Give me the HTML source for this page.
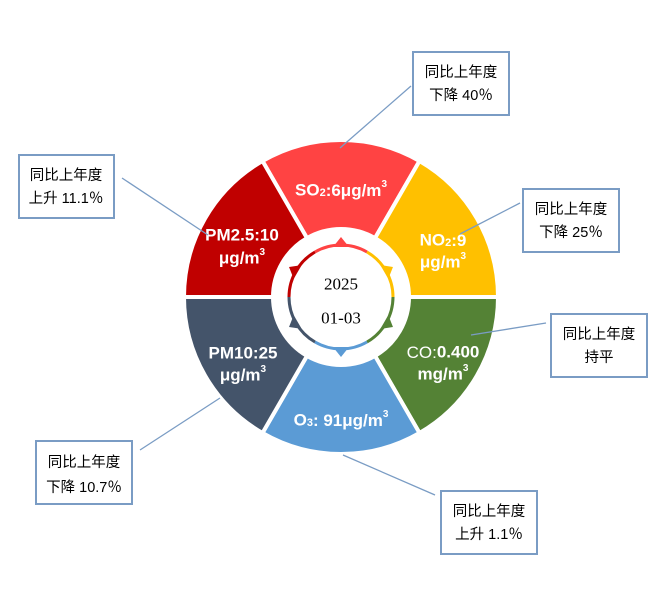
<!DOCTYPE html>
<html><head><meta charset="utf-8"><style>body{margin:0;background:#fff}svg{display:block}
.l{font-family:"Liberation Sans","Noto Sans CJK SC",sans-serif;font-size:17px;font-weight:bold;fill:#fff;text-anchor:middle;dominant-baseline:central}
.b{font-family:"Liberation Sans","Noto Sans CJK SC",sans-serif;font-size:14.5px;fill:#000;text-anchor:middle;dominant-baseline:central}
</style></head><body>
<svg width="667" height="608" viewBox="0 0 667 608" xmlns="http://www.w3.org/2000/svg">
<g stroke="#fff" stroke-width="4">
<path d="M419.5,161 A157,157 0 0 0 262.5,161 L307,238.1 A68,68 0 0 1 375,238.1 Z" fill="#FF4343"/>
<path d="M498,297 A157,157 0 0 0 419.5,161 L375,238.1 A68,68 0 0 1 409,297 Z" fill="#FFC000"/>
<path d="M419.5,433 A157,157 0 0 0 498,297 L409,297 A68,68 0 0 1 375,355.9 Z" fill="#548235"/>
<path d="M262.5,433 A157,157 0 0 0 419.5,433 L375,355.9 A68,68 0 0 1 307,355.9 Z" fill="#5B9BD5"/>
<path d="M184,297 A157,157 0 0 0 262.5,433 L307,355.9 A68,68 0 0 1 273,297 Z" fill="#44546A"/>
<path d="M262.5,161 A157,157 0 0 0 184,297 L273,297 A68,68 0 0 1 307,238.1 Z" fill="#C00000"/>
</g>
<g fill="none" stroke-width="3">
<path d="M367,252 A52,52 0 0 0 315,252" stroke="#FF4343"/>
<path d="M393,297 A52,52 0 0 0 367,252" stroke="#FFC000"/>
<path d="M367,342 A52,52 0 0 0 393,297" stroke="#548235"/>
<path d="M315,342 A52,52 0 0 0 367,342" stroke="#5B9BD5"/>
<path d="M289,297 A52,52 0 0 0 315,342" stroke="#44546A"/>
<path d="M315,252 A52,52 0 0 0 289,297" stroke="#C00000"/>
</g>
<g>
<polygon points="341,237 333,247 349,247" fill="#FF4343"/>
<polygon points="341,237 333,247 349,247" fill="#FFC000" transform="rotate(60 341 297)"/>
<polygon points="341,237 333,247 349,247" fill="#548235" transform="rotate(120 341 297)"/>
<polygon points="341,237 333,247 349,247" fill="#5B9BD5" transform="rotate(180 341 297)"/>
<polygon points="341,237 333,247 349,247" fill="#44546A" transform="rotate(240 341 297)"/>
<polygon points="341,237 333,247 349,247" fill="#C00000" transform="rotate(300 341 297)"/>
</g>
<text x="341" y="284" font-family="Liberation Serif,serif" font-size="17" text-anchor="middle" dominant-baseline="central">2025</text>
<text x="341" y="318" font-family="Liberation Serif,serif" font-size="17" text-anchor="middle" dominant-baseline="central">01-03</text>

<text class="l" x="341" y="190">SO<tspan font-size="11" dy="3">2</tspan><tspan dy="-3">:6μg/m</tspan><tspan font-size="10" dy="-6">3</tspan></text>
<text class="l" x="242" y="235">PM2.5:10</text>
<text class="l" x="242" y="258">μg/m<tspan font-size="10" dy="-6">3</tspan></text>
<text class="l" x="443" y="240">NO<tspan font-size="11" dy="3">2</tspan><tspan dy="-3">:9</tspan></text>
<text class="l" x="443" y="262">μg/m<tspan font-size="10" dy="-6">3</tspan></text>
<text class="l" x="443" y="352"><tspan font-weight="normal">CO:</tspan>0.400</text>
<text class="l" x="443" y="374">mg/m<tspan font-size="10" dy="-6">3</tspan></text>
<text class="l" x="243" y="353">PM10:25</text>
<text class="l" x="243" y="375">μg/m<tspan font-size="10" dy="-6">3</tspan></text>
<text class="l" x="341" y="420">O<tspan font-size="11" dy="3">3</tspan><tspan dy="-3">: 91μg/m</tspan><tspan font-size="10" dy="-6">3</tspan></text>

<g stroke="#7A9CC4" stroke-width="1.3">
<line x1="411" y1="86" x2="340" y2="148"/>
<line x1="122" y1="178" x2="208" y2="235"/>
<line x1="520" y1="203" x2="460" y2="234"/>
<line x1="546" y1="323" x2="471" y2="335"/>
<line x1="140" y1="450" x2="220" y2="398"/>
<line x1="435" y1="495" x2="343" y2="455"/>
</g>
<g fill="#fff" stroke="#7A9CC4" stroke-width="2">
<rect x="413" y="52" width="96" height="63"/>
<rect x="19" y="155" width="95" height="63"/>
<rect x="523" y="189" width="96" height="63"/>
<rect x="551" y="314" width="96" height="63"/>
<rect x="36" y="441" width="96" height="63"/>
<rect x="441" y="491" width="96" height="63"/>
</g>
<text class="b" x="461" y="73">同比上年度</text><text class="b" x="461" y="96">下降 40％</text>
<text class="b" x="66" y="176">同比上年度</text><text class="b" x="66" y="199">上升 11.1％</text>
<text class="b" x="571" y="210">同比上年度</text><text class="b" x="571" y="233">下降 25％</text>
<text class="b" x="599" y="335">同比上年度</text><text class="b" x="599" y="358">持平</text>
<text class="b" x="84" y="463">同比上年度</text><text class="b" x="84" y="488">下降 10.7％</text>
<text class="b" x="489" y="512">同比上年度</text><text class="b" x="489" y="535">上升 1.1％</text>
</svg>
</body></html>
